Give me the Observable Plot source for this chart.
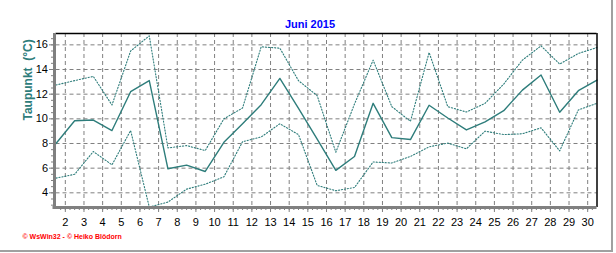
<!DOCTYPE html>
<html><head><meta charset="utf-8">
<script src="https://cdn.jsdelivr.net/npm/d3@7"></script>
<script src="https://cdn.jsdelivr.net/npm/@observablehq/plot@0.6"></script>
<style>
body{margin:0;background:#fff;}
#wrap{position:relative;width:616px;height:253px;overflow:hidden;}
#border{position:absolute;left:0;top:0;width:611px;height:250px;border-right:2px solid #a0a0a0;border-bottom:2px solid #a0a0a0;pointer-events:none;}
</style></head><body><div id="wrap"><div id="border"></div></div>
<script>
// Days of June 2015
const days = [1,2,3,4,5,6,7,8,9,10,11,12,13,14,15,16,17,18,19,20,21,22,23,24,25,26,27,28,29,30];
// Daily maximum dew point (°C) – upper dotted line
const dewMax = [12.74,13.1,13.44,11.12,15.5,16.73,7.64,7.83,7.43,10.0,10.88,15.84,15.73,13.09,11.88,7.29,11.2,14.76,10.99,9.8,15.38,10.99,10.55,11.26,12.82,14.76,15.92,14.44,15.3,15.78];
// Daily mean dew point (°C) – solid line
const dewAvg = [8.0,9.85,9.9,9.05,12.2,13.1,5.95,6.25,5.73,8.1,9.6,11.15,13.28,10.85,8.35,5.82,6.95,11.26,8.48,8.32,11.1,10.07,9.1,9.75,10.66,12.33,13.55,10.53,12.28,13.14];
// Daily minimum dew point (°C) – lower dotted line
const dewMin = [5.19,5.5,7.35,6.27,9.05,2.85,3.25,4.3,4.7,5.3,8.14,8.53,9.6,8.72,4.6,4.17,4.43,6.5,6.42,6.95,7.73,8.03,7.57,9.0,8.72,8.79,9.27,7.4,10.72,11.26];
// Tick labels
const xTickDays = [2,3,4,5,6,7,8,9,10,11,12,13,14,15,16,17,18,19,20,21,22,23,24,25,26,27,28,29,30];
const yTickValues = [4,6,8,10,12,14,16];
const titleText = "Juni 2015";
const yLabelText = "Taupunkt  (°C)";
const footerText = "© WsWin32 - © Heiko Blödorn";

const C = "#2e7d7b";
const GRID = "#808080";
const F = "'Liberation Sans', Arial, sans-serif";
const xDom = [1.5, 30.5];
const yDom = [2.81, 16.92];

const toRows = arr => days.map((d, i) => ({x: d + 0.5, v: arr[i]}));
const minorX = d3.range(xDom[0] + 0.25, xDom[1], 0.25);
const minorY = d3.range(3, 17, 0.5);

const chart = Plot.plot({
  width: 616, height: 253,
  marginLeft: 55.5, marginRight: 19.5, marginTop: 33, marginBottom: 46,
  style: {fontFamily: F, fontSize: "11px", background: "transparent", color: "black", overflow: "visible"},
  x: {domain: xDom, axis: null},
  y: {domain: yDom, axis: null},
  marks: [
    Plot.ruleX(xTickDays, {stroke: GRID, strokeWidth: 1, strokeDasharray: "4,3"}),
    Plot.ruleY(yTickValues, {stroke: GRID, strokeWidth: 1, strokeDasharray: "4,3"}),
    Plot.lineY(toRows(dewMax), {x: "x", y: "v", stroke: C, strokeWidth: 1.1, strokeDasharray: "1.2,1.8"}),
    Plot.lineY(toRows(dewMin), {x: "x", y: "v", stroke: C, strokeWidth: 1.1, strokeDasharray: "1.2,1.8"}),
    Plot.lineY(toRows(dewAvg), {x: "x", y: "v", stroke: C, strokeWidth: 1.4}),
    // frame
    Plot.ruleY([yDom[1]], {stroke: "black", strokeWidth: 1.5}),
    Plot.ruleX([xDom[1]], {stroke: "black", strokeWidth: 1.5}),
    Plot.ruleY([yDom[0]], {stroke: GRID, strokeWidth: 3, x1: xDom[0], x2: xDom[1], insetLeft: -3}),
    Plot.ruleX([xDom[0]], {stroke: GRID, strokeWidth: 3, dx: -1.5}),
    // ticks
    Plot.axisX(minorX, {anchor: "bottom", label: null, tickSize: 3, tickFormat: () => "", color: GRID}),
    Plot.axisX(xTickDays, {anchor: "bottom", label: null, tickSize: 5, tickFormat: () => "", color: GRID}),
    Plot.axisX(xTickDays, {anchor: "bottom", label: null, tickSize: 0, tickPadding: 11, color: "black", fontSize: 11}),
    Plot.axisY(minorY, {anchor: "left", label: null, tickSize: 4.5, tickFormat: () => "", color: GRID}),
    Plot.axisY(yTickValues, {anchor: "left", label: null, tickSize: 6.5, tickFormat: () => "", color: GRID}),
    Plot.axisY(yTickValues, {anchor: "left", label: null, tickSize: 0, tickPadding: 8, color: "black", fontSize: 11}),
    // texts
    Plot.text([titleText], {text: d => d, frameAnchor: "top", dx: -16.5, dy: -13.2, fill: "#0000ff", fontWeight: "bold", fontSize: 11}),
    Plot.text([yLabelText], {text: d => d, frameAnchor: "left", rotate: -90, dx: -28, fill: C, fontWeight: "bold", fontSize: 12}),
    Plot.text([footerText], {text: d => d, frameAnchor: "bottom-left", textAnchor: "start", dx: -33.5, dy: 31.3, fill: "#ff0000", fontWeight: "bold", fontSize: 7})
  ]
});
document.getElementById("wrap").appendChild(chart);
</script>
</body></html>
